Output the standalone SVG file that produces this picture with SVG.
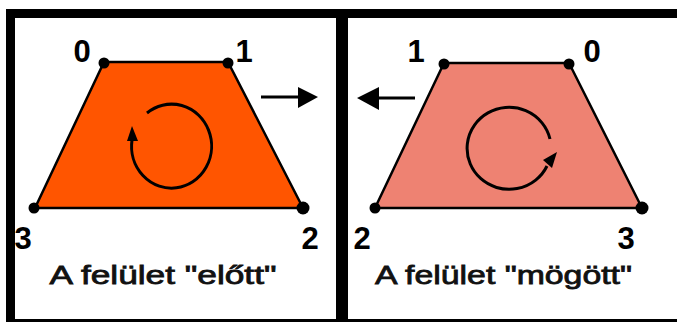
<svg xmlns="http://www.w3.org/2000/svg" width="677" height="322" viewBox="0 0 677 322">
<style>
.lbl{font-family:"Liberation Sans",Arial,sans-serif;font-weight:bold;font-size:31px;fill:#000;text-anchor:middle}
.cap{font-family:"Liberation Sans",Arial,sans-serif;font-weight:normal;font-size:26px;fill:#111;stroke:#111;stroke-width:0.8;text-anchor:middle}
.edge{stroke:#000;stroke-width:2.5;stroke-linejoin:round}
.rot{fill:none;stroke:#000;stroke-width:3}
.dot{fill:#000}
</style>
<rect x="0" y="0" width="677" height="322" fill="#fff"/>
<rect x="6" y="9" width="671" height="313" fill="#000"/>
<rect x="15" y="18" width="321" height="301" fill="#fff"/>
<rect x="348" y="18" width="329" height="301" fill="#fff"/>

<g id="front">
  <polygon class="edge" points="104,62 228,62 303,208 35,208" fill="#FF5500"/>
  <circle class="dot" cx="104" cy="63" r="5.5"/>
  <circle class="dot" cx="228" cy="63" r="5.5"/>
  <circle class="dot" cx="303" cy="208" r="6.5"/>
  <circle class="dot" cx="34" cy="208" r="5.5"/>
  <path class="rot" d="M147,113 A40,42 0 1 1 132,140"/>
  <polygon points="132,126 127,141 138,141" fill="#000"/>
  <text class="lbl" x="82" y="62">0</text>
  <text class="lbl" x="244" y="62">1</text>
  <text class="lbl" x="310" y="249">2</text>
  <text class="lbl" x="23" y="249">3</text>
  <text class="cap" x="163" y="284" textLength="227" lengthAdjust="spacingAndGlyphs">A felület "előtt"</text>
</g>

<g id="back">
  <polygon class="edge" points="444,63 569,63 642,208 375,208" fill="#EE8272"/>
  <circle class="dot" cx="444" cy="64" r="5.5"/>
  <circle class="dot" cx="569" cy="64" r="5.5"/>
  <circle class="dot" cx="642" cy="208" r="6.5"/>
  <circle class="dot" cx="375" cy="208" r="5.5"/>
  <path class="rot" d="M550,139 A42,41 0 1 0 547,166"/>
  <polygon points="557,152 543,160 552,168" fill="#000"/>
  <text class="lbl" x="416" y="62">1</text>
  <text class="lbl" x="592" y="62">0</text>
  <text class="lbl" x="362" y="249">2</text>
  <text class="lbl" x="626" y="249">3</text>
  <text class="cap" x="503.5" y="284" textLength="257" lengthAdjust="spacingAndGlyphs">A felület "mögött"</text>
</g>

<g id="connectors">
  <line x1="261" y1="97" x2="300" y2="97" stroke="#000" stroke-width="3"/>
  <polygon points="298,87 318,97 298,108" fill="#000"/>
  <line x1="377" y1="98" x2="415" y2="98" stroke="#000" stroke-width="3"/>
  <polygon points="379,87 357,98 379,110" fill="#000"/>
</g>
</svg>
